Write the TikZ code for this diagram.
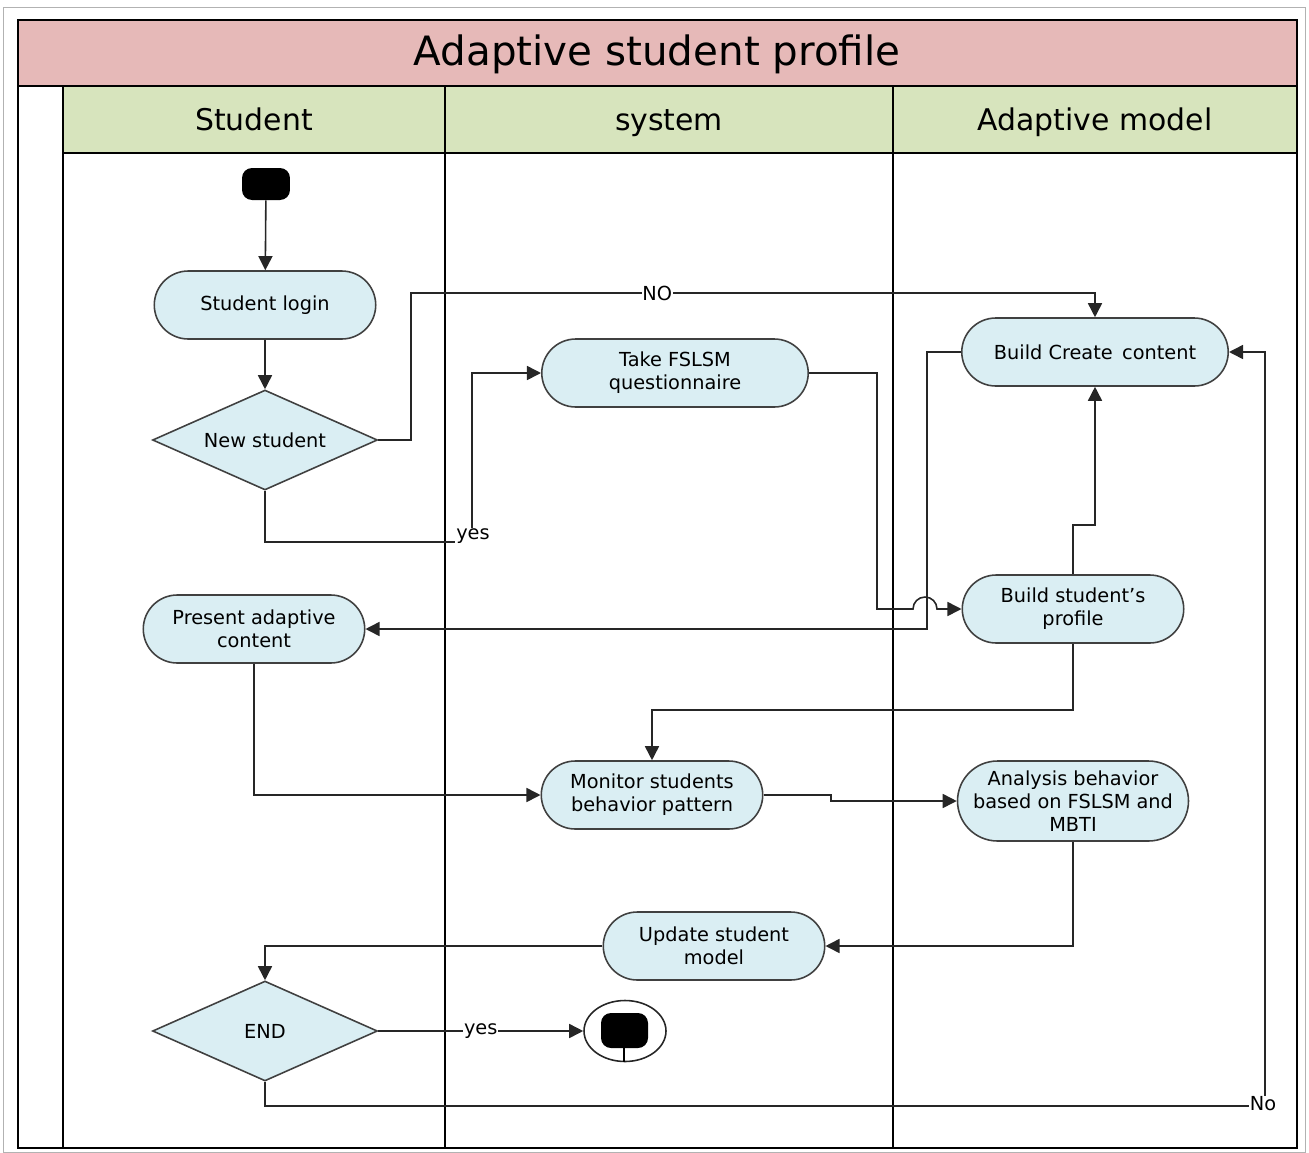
\documentclass[tikz,border=0pt]{standalone}
\usepackage{fontspec}
\setmainfont{DejaVu Sans}
\usetikzlibrary{shapes.geometric, shapes.misc, arrows.meta, positioning}

\definecolor{titlepink}{HTML}{E6B9B8}
\definecolor{lanegreen}{HTML}{D7E4BD}
\definecolor{actblue}{HTML}{DAEEF3}

\tikzset{
  activity/.style={rounded rectangle, draw=black!75, fill=actblue, line width=0.9pt,
    minimum width=4.5cm, minimum height=1.36cm, align=center, inner sep=1pt,
    font=\fontsize{11}{13}\selectfont},
  decision/.style={diamond, draw=black!75, fill=actblue, line width=0.9pt, aspect=2.25,
    minimum width=4.5cm, minimum height=2cm, inner sep=0pt,
    font=\fontsize{11}{13}\selectfont},
  flow/.style={draw=black!85, line width=0.9pt, -{Triangle[length=8pt,width=8pt]}},
  lbl/.style={fill=white, inner sep=0.5pt, font=\fontsize{11}{13}\selectfont},
  lane/.style={line width=1.2pt},
  lanehead/.style={anchor=base, font=\fontsize{17}{20}\selectfont},
}

\begin{document}
\begin{tikzpicture}[x=0.02cm, y=-0.02cm]
            \useasboundingbox (0,0) rectangle (1309,1153);
            % frame and lanes
            \draw[gray!60, line width=0.4pt] (3,7) rectangle (1305,1152);
            \draw[lane, fill=titlepink] (18,20) rectangle (1297,86);
            \draw[lane, fill=lanegreen] (63,86) rectangle (1297,153);
            \draw[lane] (18,20) rectangle (1297,1148);
            \draw[lane] (63,86) -- (63,1148);
            \draw[lane] (445,86) -- (445,1148);
            \draw[lane] (893,86) -- (893,1148);
            \node[anchor=base, font=\fontsize{23}{27}\selectfont] (title) at (657,65) {Adaptive student profile};
            \node[lanehead] (lstudent) at (254,130) {Student};
            \node[lanehead] (lsystem) at (669,130) {system};
            \node[lanehead] (lmodel) at (1095,130) {Adaptive model};

            % activities
            \node[fill=black, rounded corners=0.2cm, minimum width=0.96cm, minimum height=0.64cm,
                inner sep=0pt] (start) at (266,184) {};
            \node[activity] (login) at (265,305) {Student login};
            \node[decision] (newst) at (265,440) {New student};
            \node[activity, minimum width=5.4cm] (takeq) at (675,373) {Take FSLSM\\questionnaire};
            \node[activity, minimum width=5.4cm] (buildc) at (1095,352) {Build Create\, content};
            \node[activity] (buildp) at (1073,609) {Build student’s\\profile};
            \node[activity] (present) at (254,629) {Present adaptive\\content};
            \node[activity] (monitor) at (652,795) {Monitor students\\behavior pattern};
            \node[activity, minimum height=1.6cm] (analysis) at (1073,801)
                {Analysis behavior\\based on FSLSM and\\MBTI};
            \node[activity] (update) at (714,946) {Update student\\model};
            \node[decision] (endd) at (265,1031) {END};
            \node[ellipse, draw=black!85, line width=0.9pt, minimum width=1.64cm,
                minimum height=1.22cm, inner sep=0pt] (final) at (625,1031) {};
            \fill[rounded corners=0.2cm] (601,1013) rectangle (648,1048);
            \draw[line width=0.9pt] (624,1048) -- (624,1062);

            % connectors
            \draw[flow] (start) -- (login);
            \draw[flow] (login) -- (newst);
            \draw[flow] (newst.east) -- (411,440) -- (411,293)
                -- node[lbl, pos=0.36] {NO} (1095,293) -- (buildc.north);
            \draw[flow] (newst.south) -- (265,542) -- (472,542) -- (472,373) -- (takeq.west);
            \node[lbl] (yes1) at (473,536) {yes};
            \draw[flow] (takeq.east) -- (877,373) -- (877,609) -- (913,609)
                arc[start angle=180, end angle=0, radius=0.24cm] -- (buildp.west);
            \draw[flow] (buildc.west) -- (927,352) -- (927,629) -- (present.east);
            \draw[flow] (buildp.north) -- (1073,525) -- (1095,525) -- (buildc.south);
            \draw[flow] (buildp.south) -- (1073,710) -- (652,710) -- (monitor.north);
            \draw[flow] (present.south) -- (254,795) -- (monitor.west);
            \draw[flow] (monitor.east) -- (831,795) -- (831,801) -- (analysis.west);
            \draw[flow] (analysis.south) -- (1073,946) -- (update.east);
            \draw[flow] (update.west) -- (265,946) -- (endd.north);
            \draw[flow] (endd.east) -- node[lbl] {yes} (final.west);
            \draw[flow] (endd.south) -- (265,1106) -- (1265,1106) -- (1265,352) -- (buildc.east);
            \node[lbl] (no2) at (1263,1104) {No};
\end{tikzpicture}
\end{document}
